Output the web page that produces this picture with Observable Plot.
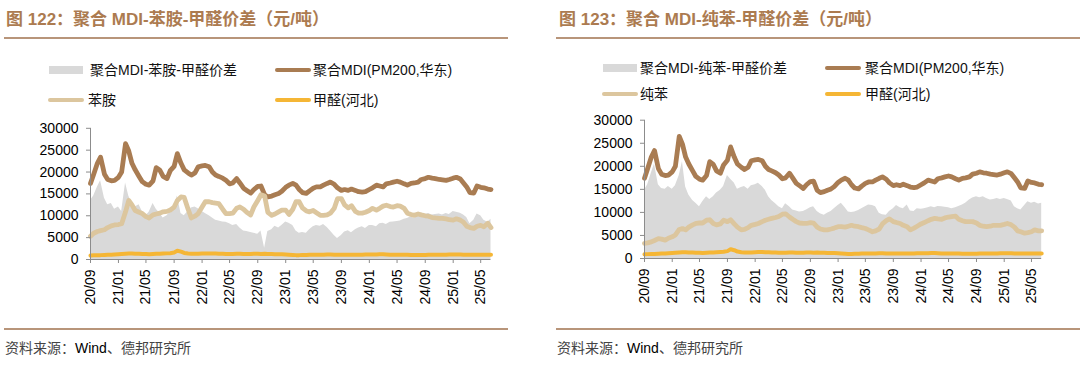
<!DOCTYPE html>
<html><head><meta charset="utf-8">
<script src="https://cdn.jsdelivr.net/npm/d3@7"></script>
<script src="https://cdn.jsdelivr.net/npm/@observablehq/plot@0.6"></script>
<style>
body{margin:0;background:#fff;}
#root{position:relative;width:1080px;height:374px;overflow:hidden;background:#fff;font-family:"Liberation Sans","Noto Sans CJK SC",sans-serif;}
.abs{position:absolute;}
.title{font-size:17px;font-weight:bold;color:#AC7B50;white-space:nowrap;line-height:20px;}
.rule{height:2px;background:#B8957A;}
.lg{font-size:14px;color:#111;white-space:nowrap;line-height:16px;transform:translateY(-50%);}
.sw{position:absolute;}
.foot{font-size:14px;color:#444;white-space:nowrap;line-height:16px;transform:translateY(-50%);}
.foot b{font-weight:normal;color:#000;}
</style></head>
<body><div id="root"></div>
<script>
const dates = ["2020-09-01","2020-09-15","2020-10-01","2020-10-15","2020-11-01","2020-11-15","2020-12-01","2020-12-15",
"2021-01-01","2021-01-15","2021-02-01","2021-02-15","2021-03-01","2021-03-15","2021-04-01","2021-04-15","2021-05-01","2021-05-15","2021-06-01","2021-06-15","2021-07-01","2021-07-15","2021-08-01","2021-08-15","2021-09-01","2021-09-15","2021-10-01","2021-10-15","2021-11-01","2021-11-15","2021-12-01","2021-12-15",
"2022-01-01","2022-01-15","2022-02-01","2022-02-15","2022-03-01","2022-03-15","2022-04-01","2022-04-15","2022-05-01","2022-05-15","2022-06-01","2022-06-15","2022-07-01","2022-07-15","2022-08-01","2022-08-15","2022-09-01","2022-09-15","2022-10-01","2022-10-15","2022-11-01","2022-11-15","2022-12-01","2022-12-15",
"2023-01-01","2023-01-15","2023-02-01","2023-02-15","2023-03-01","2023-03-15","2023-04-01","2023-04-15","2023-05-01","2023-05-15","2023-06-01","2023-06-15","2023-07-01","2023-07-15","2023-08-01","2023-08-15","2023-09-01","2023-09-15","2023-10-01","2023-10-15","2023-11-01","2023-11-15","2023-12-01","2023-12-15",
"2024-01-01","2024-01-15","2024-02-01","2024-02-15","2024-03-01","2024-03-15","2024-04-01","2024-04-15","2024-05-01","2024-05-15","2024-06-01","2024-06-15","2024-07-01","2024-07-15","2024-08-01","2024-08-15","2024-09-01","2024-09-15","2024-10-01","2024-10-15","2024-11-01","2024-11-15","2024-12-01","2024-12-15",
"2025-01-01","2025-01-15","2025-02-01","2025-02-15","2025-03-01","2025-03-15","2025-04-01","2025-04-15","2025-05-01","2025-05-15","2025-06-01","2025-06-15"];

// 聚合MDI(PM200,华东)
const mdi = [17400,19500,22000,23400,19500,18300,18000,18100,18800,20000,
26500,24800,22000,20500,19000,17800,17200,17000,18000,21000,
20400,19000,18500,20300,21300,24200,22000,20500,19800,19300,
19800,21200,21400,21500,21200,20000,19300,19000,18600,18100,
17300,17500,18500,17500,16300,15800,15200,16000,16700,16800,
14800,14300,14500,14800,15100,15600,16500,17000,17400,17000,
16000,15300,15100,15700,16300,16600,16600,17000,17400,17700,
17200,16400,15800,16000,15800,16100,15800,15500,15400,15500,
16000,16400,17000,16800,16600,17300,17500,17700,17900,17700,
17300,17000,17400,17500,17700,18300,18500,18800,18600,18500,
18300,18200,18100,18300,18600,18800,18400,17500,16600,15300,
15200,16800,16500,16400,16100,16000];

// 甲醛(河北)
const hcho = [900,950,1000,1000,1050,1100,1100,1150,1200,1250,
1300,1350,1350,1300,1300,1250,1250,1200,1250,1300,
1300,1350,1400,1450,1600,2000,1800,1500,1350,1300,
1300,1300,1350,1400,1400,1350,1350,1300,1300,1250,
1250,1250,1300,1300,1250,1250,1250,1300,1300,1250,
1300,1250,1250,1200,1200,1200,1150,1100,1050,1000,
1000,1050,1050,1100,1100,1100,1100,1100,1150,1150,
1100,1100,1100,1100,1100,1100,1100,1100,1100,1150,
1150,1150,1150,1200,1200,1150,1100,1100,1100,1100,
1100,1100,1050,1050,1050,1050,1050,1100,1100,1100,
1100,1100,1100,1150,1150,1150,1150,1100,1100,1100,
1100,1100,1100,1100,1100,1100];

// 苯胺
const aniline = [5300,6000,6400,6600,6800,7300,7700,7900,8000,8200,
10900,13500,12500,11200,10800,10500,9800,9500,10200,10400,
10600,10900,11000,11300,12000,13500,14300,14200,11500,9500,
9900,10500,12000,13200,13200,13000,12900,12800,11500,10500,
10500,10600,11700,12000,11500,10800,10200,12000,13500,14800,
14500,10800,10100,10400,10900,11300,11300,10300,11500,13200,
13200,11800,11100,10900,11200,10700,10100,10100,10200,10600,
11700,13900,13900,12500,11800,12300,11000,10600,10600,10800,
11200,11700,11300,11700,12200,12400,12100,12000,12300,12200,
11700,10600,10300,10100,10400,10200,10000,9900,9600,9500,
9400,9400,9300,9100,9000,9300,9000,8500,7600,7300,
7100,7600,7800,7500,8300,7300];

// 聚合MDI-苯胺-甲醛价差
const spreadAniline = [13500,14500,16500,18000,14000,12500,12800,11500,12000,11000,
17500,14500,12800,12000,12500,11000,10000,10800,12800,11500,
10500,9500,10000,10800,11500,14500,10500,10000,11000,11800,
12000,11600,11000,10500,10000,9500,9000,8800,8600,8500,
8200,7800,8000,7200,6500,6400,6200,6000,5800,6500,
2600,6400,6800,7600,7200,7800,8600,8300,7800,6500,
6000,6200,6000,6800,7500,7800,7600,8000,7300,6500,
5500,4800,5500,6300,6600,6100,6800,7200,7500,7100,
7800,7800,7500,8200,8300,8000,8500,8600,8700,8800,
9200,9400,9800,9400,10000,9800,10300,10500,10200,10300,
10400,10200,10500,10300,11000,10800,10600,10200,9600,8200,
9000,10400,10000,9000,8500,9200];

// 纯苯
const benzene = [3300,3400,3600,3900,4300,4200,4000,4400,4700,5100,
6300,6500,6200,6800,7300,7600,7700,7700,8300,8400,
7600,7300,7500,8300,8000,8400,7500,6800,6200,6300,
6700,7200,7400,7600,8000,8300,8500,8700,8900,9100,
9600,9700,9000,8500,8000,7700,7600,7600,7800,7700,
6800,6400,6200,6200,6400,6600,6900,6900,6800,7000,
7200,7000,6900,6700,6500,6200,5800,6000,6400,7500,
8200,8600,8000,7800,7600,7200,6900,6200,6600,7000,
7500,7800,8200,8500,8700,8600,8500,8800,9000,9100,
9200,8500,8200,8000,8000,8000,7700,7200,7000,6900,
7000,7200,7200,7200,7400,7600,7300,6800,6000,5800,
5500,5600,5800,6200,6000,6000];

// 聚合MDI-纯苯-甲醛价差
const spreadBenzene = [14800,16000,18500,20500,16000,15200,15000,15600,15000,15800,
18000,21000,15500,13800,12600,12000,11200,12300,13400,12800,
13400,14200,14800,15600,18000,17200,16400,15000,15400,15600,
15000,15800,16000,16300,15600,14800,13400,12600,11900,11200,
10800,11900,11200,10500,10300,10100,10200,10500,11000,11200,
10200,9700,9400,9800,10200,10800,11500,12000,11000,10100,
10000,10100,10400,10800,11200,11600,11500,11200,9800,9500,
9400,10200,10800,11500,11000,10800,11600,10300,10200,10800,
10700,10800,11000,11200,11000,11300,11200,11100,11000,10800,
11000,11300,11600,12000,12700,13100,13400,13200,13400,13000,
12700,12800,13000,12800,13000,12800,12500,11200,10800,10500,
11500,12300,12000,12200,11800,12000];

const yTicks = [0,5000,10000,15000,20000,25000,30000];
const xTickLabels = ["2020-09-01","2021-01-01","2021-05-01","2021-09-01","2022-01-01","2022-05-01","2022-09-01","2023-01-01","2023-05-01","2023-09-01","2024-01-01","2024-05-01","2024-09-01","2025-01-01","2025-05-01"];

const panels = [
  {title:"图 122：聚合 MDI-苯胺-甲醛价差（元/吨）", spread: spreadAniline, feed: aniline,
   names:["聚合MDI-苯胺-甲醛价差","聚合MDI(PM200,华东)","苯胺","甲醛(河北)"]},
  {title:"图 123：聚合 MDI-纯苯-甲醛价差（元/吨）", spread: spreadBenzene, feed: benzene,
   names:["聚合MDI-纯苯-甲醛价差","聚合MDI(PM200,华东)","纯苯","甲醛(河北)"]}
];
const colors = {spread:"#D9D9D9", mdi:"#A97C52", feed:"#DCC69E", hcho:"#F5B635", axis:"#8C8C8C"};

const layout = [
  {titleX:6, ruleX:4, ruleW:504, svgLeft:0, svgTop:110, w:510, h:200, ml:90, mr:19.5, mt:17.8, mb:51,
   lg:{r1:70, r2:100, sw1:49, t1:90, sw2:275, t2:313, sw3:48, t3:88}},
  {titleX:559, ruleX:556, ruleW:524, svgLeft:550, svgTop:100, w:510, h:210, ml:94, mr:18.8, mt:19.7, mb:52,
   lg:{r1:68, r2:94, sw1:603, t1:640, sw2:825, t2:865, sw3:602, t3:640}}
];

const root = document.getElementById("root");
function el(cls, css, html){const d=document.createElement("div");d.className=cls;Object.assign(d.style,css);if(html!==undefined)d.innerHTML=html;root.appendChild(d);return d;}

panels.forEach((p, k) => {
  const L = layout[k];
  el("abs title", {left:L.titleX+"px", top:"10px"}, p.title);
  el("abs rule", {left:L.ruleX+"px", top:"37px", width:L.ruleW+"px"});
  el("abs rule", {left:L.ruleX+"px", top:"328px", width:L.ruleW+"px"});
  el("abs foot", {left:(L.ruleX+1)+"px", top:"348px"}, "资料来源：<b>Wind</b>、德邦研究所");
  const g = L.lg;
  el("sw", {left:g.sw1+"px", top:(g.r1-4)+"px", width:"34px", height:"8px", background:colors.spread});
  el("abs lg", {left:g.t1+"px", top:g.r1+"px"}, p.names[0]);
  el("sw", {left:g.sw2+"px", top:(g.r1-2)+"px", width:"36px", height:"4px", background:colors.mdi, borderRadius:"2px"});
  el("abs lg", {left:g.t2+"px", top:g.r1+"px"}, p.names[1]);
  el("sw", {left:g.sw3+"px", top:(g.r2-2)+"px", width:"36px", height:"4px", background:colors.feed, borderRadius:"2px"});
  el("abs lg", {left:g.t3+"px", top:g.r2+"px"}, p.names[2]);
  el("sw", {left:g.sw2+"px", top:(g.r2-2)+"px", width:"36px", height:"4px", background:colors.hcho, borderRadius:"2px"});
  el("abs lg", {left:g.t2+"px", top:g.r2+"px"}, p.names[3]);

  const data = dates.map((d, i) => ({date: new Date(d), spread: p.spread[i], mdi: mdi[i], feed: p.feed[i], hcho: hcho[i]}));
  const start = new Date(dates[0]), end = new Date(dates[dates.length-1]);
  const chart = Plot.plot({
    width: L.w, height: L.h, marginLeft: L.ml, marginRight: L.mr, marginTop: L.mt, marginBottom: L.mb,
    style: {fontFamily: "Liberation Sans, Arial, sans-serif", fontSize: "14px", color: "#000", background: "transparent", overflow: "visible"},
    x: {type: "utc", domain: [start, end]},
    y: {domain: [0, 30000]},
    marks: [
      Plot.areaY(data, {x: "date", y: "spread", fill: colors.spread}),
      Plot.lineY(data, {x: "date", y: "mdi", stroke: colors.mdi, strokeWidth: 4.8}),
      Plot.lineY(data, {x: "date", y: "feed", stroke: colors.feed, strokeWidth: 4.8}),
      Plot.lineY(data, {x: "date", y: "hcho", stroke: colors.hcho, strokeWidth: 4}),
      Plot.ruleX([start], {stroke: colors.axis}),
      Plot.ruleY([0], {stroke: colors.axis}),
      Plot.axisY({ticks: yTicks, tickFormat: d => String(d), tickSize: 4, tickPadding: 8, stroke: colors.axis, label: null}),
      Plot.axisX({ticks: xTickLabels.map(s => new Date(s)), tickFormat: d3.utcFormat("%y/%m"), tickRotate: -90, tickSize: 4, tickPadding: 6, stroke: colors.axis, label: null})
    ]
  });
  chart.style.position = "absolute";
  chart.style.left = L.svgLeft + "px";
  chart.style.top = L.svgTop + "px";
  root.appendChild(chart);
});
</script>
</body></html>
